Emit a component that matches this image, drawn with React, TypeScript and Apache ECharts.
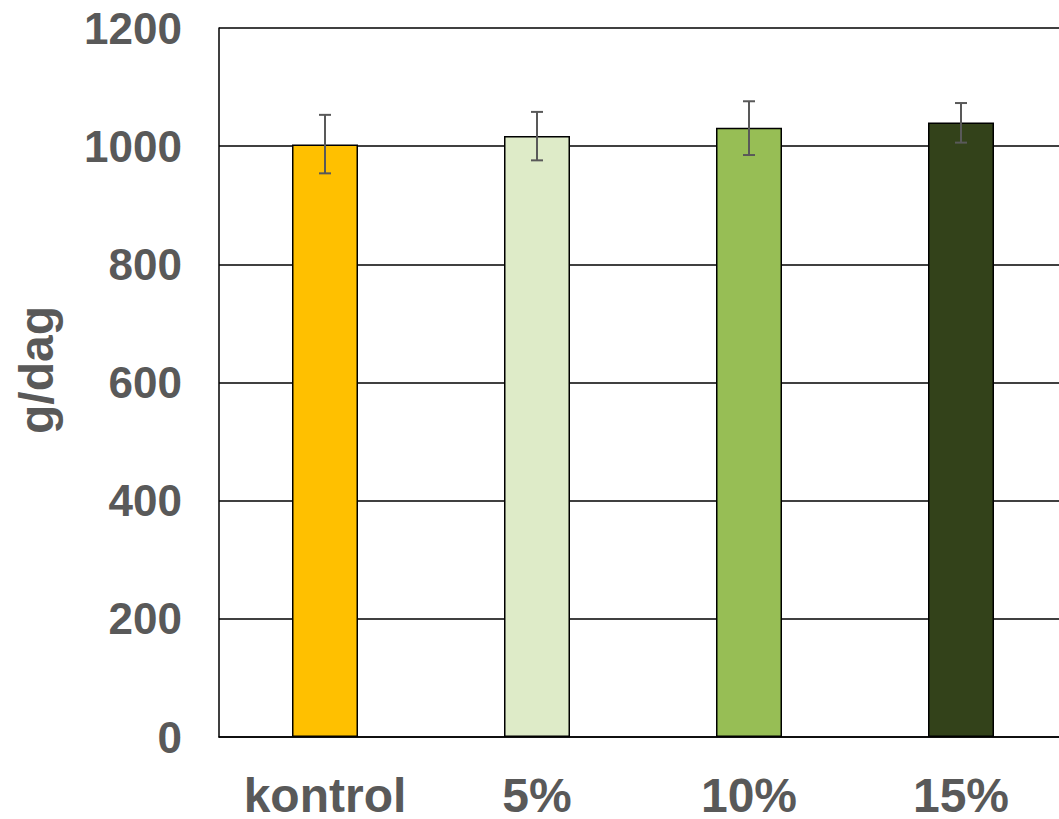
import React, { useEffect, useRef } from "react";
import * as echarts from "echarts";

const categories = ["kontrol", "5%", "10%", "15%"];
const means = [1003, 1017, 1031, 1040];
const lowErr = [954, 976, 985, 1006];
const highErr = [1053, 1058, 1076, 1073];
const barColors = ["#FFC000", "#DEEBC8", "#97BE55", "#33421A"];
const yTicks = { min: 0, max: 1200, interval: 200 };
const yTitle = "g/dag";

export default function App() {
  const ref = useRef<HTMLDivElement>(null);
  useEffect(() => {
    if (!ref.current) return;
    const chart = echarts.init(ref.current, null, { renderer: "svg" });
    const font = "'Liberation Sans', Arial, sans-serif";
    const gray = "#595959";
    chart.setOption({
      animation: false,
      grid: { left: 219, top: 28, width: 848, height: 712, containLabel: false },
      xAxis: {
        type: "category",
        data: categories,
        axisLine: { show: true, lineStyle: { color: "#000", width: 1.5 } },
        axisTick: { show: false },
        axisLabel: {
          interval: 0,
          color: gray,
          fontSize: 48,
          lineHeight: 40,
          fontWeight: "bold",
          fontFamily: font,
          margin: 38,
        },
      },
      yAxis: {
        type: "value",
        min: yTicks.min,
        max: yTicks.max,
        interval: yTicks.interval,
        axisLine: { show: true, lineStyle: { color: "#000", width: 1.5 } },
        axisTick: { show: false },
        splitLine: { show: true, lineStyle: { color: "#000", width: 1.5 } },
        axisLabel: {
          color: gray,
          fontSize: 44,
          fontWeight: "bold",
          fontFamily: font,
          margin: 37,
          formatter: (v: number) => String(v),
        },
      },
      graphic: [
        {
          type: "text",
          x: 36,
          y: 370,
          rotation: Math.PI / 2,
          style: {
            text: yTitle,
            fontSize: 48,
            fontWeight: "bold",
            fontFamily: font,
            fill: gray,
            align: "center",
            verticalAlign: "middle",
          },
        },
      ],
      series: [
        {
          type: "bar",
          barWidth: 66,
          data: means.map((v, i) => ({
            value: v,
            itemStyle: { color: barColors[i], borderColor: "#000", borderWidth: 1.5 },
          })),
        },
        {
          type: "custom",
          z: 10,
          data: categories.map((_, i) => [i, lowErr[i], highErr[i]]),
          renderItem: (params: any, api: any) => {
            const idx = api.value(0);
            const lo = api.coord([idx, api.value(1)]);
            const hi = api.coord([idx, api.value(2)]);
            const half = 6;
            const style = { stroke: gray, lineWidth: 2 };
            return {
              type: "group",
              children: [
                { type: "line", shape: { x1: lo[0], y1: lo[1], x2: hi[0], y2: hi[1] }, style },
                { type: "line", shape: { x1: hi[0] - half, y1: hi[1], x2: hi[0] + half, y2: hi[1] }, style },
                { type: "line", shape: { x1: lo[0] - half, y1: lo[1], x2: lo[0] + half, y2: lo[1] }, style },
              ],
            };
          },
        },
      ],
    });
    return () => chart.dispose();
  }, []);
  return (
    <div
      style={{ position: "fixed", left: 0, top: 0, width: 1059, height: 819, overflow: "hidden", background: "#fff" }}
    >
      <div ref={ref} style={{ width: 1100, height: 819 }} />
    </div>
  );
}
